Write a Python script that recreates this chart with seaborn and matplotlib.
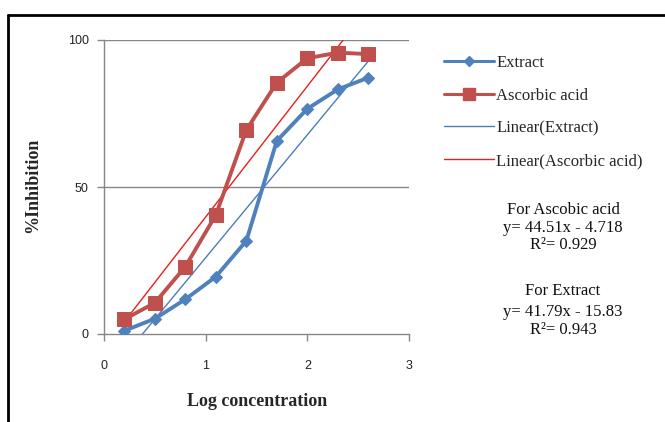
import numpy as np
import pandas as pd
import matplotlib
matplotlib.use("Agg")
import matplotlib.pyplot as plt
from matplotlib.lines import Line2D
import seaborn as sns

# ---- data ----
log_conc = [0.2, 0.5, 0.8, 1.1, 1.4, 1.7, 2.0, 2.3, 2.6]
extract = [1.1, 5.2, 11.8, 19.5, 31.7, 65.7, 76.6, 83.2, 87.2]
ascorbic = [5.0, 10.6, 22.9, 40.5, 69.4, 85.5, 93.8, 95.7, 95.2]
# trendline coefficients (slope, intercept) as printed on the chart
fit_extract = [41.79, -15.83]
fit_ascorbic = [44.51, -4.718]
r2_extract = 0.943
r2_ascorbic = 0.929
x_ticks = [0, 1, 2, 3]
y_ticks = [0, 50, 100]

BLUE = "#4F81BD"
RED = "#C0504D"
TBLUE = "#4A7EBB"
TRED = "#E8201A"

sns.set_theme(style="white")
plt.rcParams["font.family"] = ["Liberation Sans", "DejaVu Sans"]

fig = plt.figure(figsize=(6.65, 4.22), dpi=100)
ax = fig.add_axes([104/665, 1-334/422, (409-104)/665, (334-40)/422])

df = pd.DataFrame({"x": log_conc + log_conc,
                   "y": extract + ascorbic,
                   "series": ["Extract"]*len(log_conc) + ["Ascorbic acid"]*len(log_conc)})

# trendlines
xs = np.array([log_conc[0], log_conc[-1]])
tdf = pd.DataFrame({"x": np.concatenate([xs, xs]),
                    "y": np.concatenate([fit_extract[0]*xs + fit_extract[1],
                                         fit_ascorbic[0]*xs + fit_ascorbic[1]]),
                    "series": ["Linear(Extract)"]*2 + ["Linear(Ascorbic acid)"]*2})
sns.lineplot(data=tdf, x="x", y="y", hue="series",
             palette={"Linear(Extract)": TBLUE, "Linear(Ascorbic acid)": TRED},
             linewidth=1.0, legend=False, ax=ax, zorder=3, estimator=None, sort=False)

sns.lineplot(data=df[df.series == "Extract"], x="x", y="y", color=BLUE,
             marker="D", markersize=6.5, markeredgecolor=BLUE, linewidth=2.8,
             legend=False, ax=ax, zorder=4)
sns.lineplot(data=df[df.series == "Ascorbic acid"], x="x", y="y", color=RED,
             marker="s", markersize=9.5, markeredgecolor=RED, linewidth=2.8,
             legend=False, ax=ax, zorder=4)

ax.set_xlim(0, 3)
ax.set_ylim(0, 100)
ax.set_xticks(x_ticks)
ax.set_yticks(y_ticks)
ax.set_xticklabels([str(t) for t in x_ticks], fontsize=9)
ax.set_yticklabels([str(t) for t in y_ticks], fontsize=9)
ax.grid(False)
for yv in [50, 100]:
    ax.axhline(yv, color="#868686", linewidth=1.0, zorder=1)
for s in ["top", "right"]:
    ax.spines[s].set_visible(False)
for s in ["left", "bottom"]:
    ax.spines[s].set_color("#868686")
    ax.spines[s].set_linewidth(1.0)
ax.tick_params(axis="both", direction="out", length=5, width=1.0, color="#868686",
               labelcolor="#222222", bottom=True, left=True)
ax.tick_params(axis="x", pad=14)
ax.tick_params(axis="y", pad=6)

ax.set_xlabel("Log concentration", fontsize=13, fontweight="bold",
              family="Liberation Serif")
ax.set_ylabel("%Inhibition", fontsize=13, fontweight="bold",
              family="Liberation Serif")
ax.xaxis.set_label_coords((257-104)/305, (334-402)/294)
ax.yaxis.set_label_coords((33-104)/305, (334-185)/294)
ax.xaxis.label.set_va("center")
ax.yaxis.label.set_va("center")

handles = [
    Line2D([], [], color=BLUE, marker="D", markersize=5, linewidth=2.2),
    Line2D([], [], color=RED, marker="s", markersize=8, linewidth=2.2),
    Line2D([], [], color=TBLUE, linewidth=1.0),
    Line2D([], [], color=TRED, linewidth=1.0),
]
labels = ["Extract", "Ascorbic acid", "Linear(Extract)", "Linear(Ascorbic acid)"]
fig.legend(handles, labels, loc="upper left", bbox_to_anchor=(444/665, 1-55/422),
           frameon=False, prop={"family": "Liberation Serif", "size": 12},
           handlelength=3.0, handletextpad=0.15, labelspacing=1.0, borderaxespad=0,
           borderpad=0)

txt = dict(ha="center", va="center", family="Liberation Serif", fontsize=12, color="#111111")
cx = 563/665
fig.text(cx, 1-210/422, "For Ascobic acid", **txt)
fig.text(cx, 1-228/422, f"y= {fit_ascorbic[0]}x - {abs(fit_ascorbic[1])}", **txt)
fig.text(cx, 1-245/422, f"R²= {r2_ascorbic}", **txt)
fig.text(cx, 1-291/422, "For Extract", **txt)
fig.text(cx, 1-312/422, f"y= {fit_extract[0]}x - {abs(fit_extract[1])}", **txt)
fig.text(cx, 1-330/422, f"R²= {r2_extract}", **txt)

# outer black frame (left and top edges visible)
fig.add_artist(Line2D([8/665, 8/665], [0, 1-15/422], color="black", linewidth=2, transform=fig.transFigure))
fig.add_artist(Line2D([8/665, 1], [1-15/422, 1-15/422], color="black", linewidth=2, transform=fig.transFigure))

fig.savefig("out.png", dpi=100)
